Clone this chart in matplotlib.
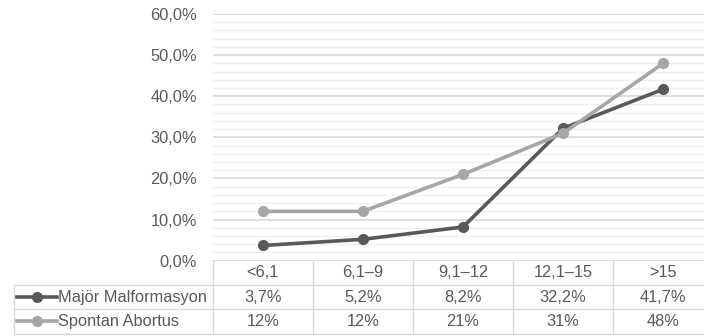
import matplotlib.pyplot as plt
import matplotlib.transforms as mtransforms
from matplotlib.lines import Line2D
from matplotlib.ticker import MultipleLocator, FuncFormatter

plt.rcParams['font.family'] = ['Liberation Sans', 'DejaVu Sans']

categories = ['<6,1', '6,1–9', '9,1–12', '12,1–15', '>15']
series_names = ['Majör Malformasyon', 'Spontan Abortus']
malformasyon = [3.7, 5.2, 8.2, 32.2, 41.7]
abortus = [12, 12, 21, 31, 48]
malformasyon_labels = ['3,7%', '5,2%', '8,2%', '32,2%', '41,7%']
abortus_labels = ['12%', '12%', '21%', '31%', '48%']

colors = ['#595959', '#a6a6a6']
text_color = '#595959'
grid_major = '#d9d9d9'
grid_minor = '#f0f0f0'
fs = 11.8

W, H = 704, 336
fig = plt.figure(figsize=(W / 100, H / 100), dpi=100)

# plot area in pixels (the last column runs past the right edge)
left, right, top, bottom = 212.7, 713.3, 14.0, 260.7
ax = fig.add_axes([left / W, 1 - bottom / H, (right - left) / W, (bottom - top) / H])

x = range(len(categories))
for vals, c in zip([malformasyon, abortus], colors):
    ax.plot(x, [v / 100 for v in vals], color=c, lw=2.6, marker='o', ms=7, zorder=3)

ax.set_xlim(-0.5, len(categories) - 0.5)
ax.set_ylim(0, 0.6)
ax.yaxis.set_major_locator(MultipleLocator(0.1))
ax.yaxis.set_minor_locator(MultipleLocator(0.02))
ax.yaxis.set_major_formatter(FuncFormatter(lambda v, p: f'{v * 100:.1f}%'.replace('.', ',')))
ax.grid(which='major', axis='y', color=grid_major, lw=1.2)
ax.grid(which='minor', axis='y', color=grid_minor, lw=1.0)
ax.set_axisbelow(True)
ax.tick_params(axis='y', which='both', length=0, pad=11.5, labelsize=fs, labelcolor=text_color)
ax.set_xticks([])
for s in ax.spines.values():
    s.set_visible(False)

# data table under the plot
ax_h = bottom - top
row_h = 24.3
trans = mtransforms.blended_transform_factory(ax.transData, ax.transAxes)
fig_px = mtransforms.Affine2D().scale(1 / W, 1 / H) + fig.transFigure


def yfrac(py):
    # pixel row (from top) to axes fraction
    return (bottom - py) / ax_h


rows = [categories, malformasyon_labels, abortus_labels]
line_kw = dict(color=grid_major, lw=1.0, clip_on=False)

# column separators
for i in range(len(categories) + 1):
    ax.plot([i - 0.5, i - 0.5], [yfrac(bottom), yfrac(bottom + 3 * row_h)],
            transform=trans, **line_kw)
# row separators across the data columns
for r in range(1, 4):
    y = yfrac(bottom + r * row_h)
    ax.plot([-0.5, len(categories) - 0.5], [y, y], transform=trans, **line_kw)

# label column
lx0 = 14
for r in range(1, 4):
    y = H - (bottom + r * row_h)
    fig.add_artist(Line2D([lx0, left], [y, y], transform=fig_px, color=grid_major, lw=1.0))
fig.add_artist(Line2D([lx0, lx0], [H - (bottom + row_h), H - (bottom + 3 * row_h)],
                      transform=fig_px, color=grid_major, lw=1.0))

for r, row in enumerate(rows):
    yc = yfrac(bottom + (r + 0.5) * row_h)
    for i, t in enumerate(row):
        ax.text(i, yc, t, transform=trans, ha='center', va='center',
                fontsize=fs, color=text_color, clip_on=False)

for k, (name, c) in enumerate(zip(series_names, colors)):
    yc = H - (bottom + (k + 1.5) * row_h)
    fig.add_artist(Line2D([17, 57], [yc, yc], transform=fig_px, color=c, lw=2.6))
    fig.add_artist(Line2D([37], [yc], transform=fig_px, color=c, marker='o', ms=7))
    fig.text(58 / W, yc / H, name, ha='left', va='center', fontsize=fs, color=text_color)

fig.savefig('out.png', dpi=100)
